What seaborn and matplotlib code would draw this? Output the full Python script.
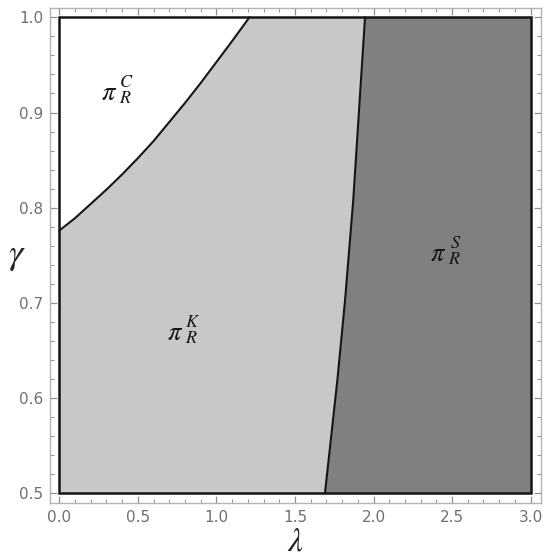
import numpy as np
import pandas as pd
import matplotlib
matplotlib.use("Agg")
import matplotlib.pyplot as plt
import seaborn as sns
from matplotlib.patches import Rectangle
from matplotlib.ticker import MultipleLocator, FormatStrFormatter

# region boundaries
lam_range = [0.0, 3.0]
gam_range = [0.5, 1.0]

# boundary between pi_R^C (white) and pi_R^K (light gray)
lam_c = [0.0, 0.1, 0.2, 0.3, 0.4, 0.5, 0.6, 0.7, 0.8, 0.9, 1.0, 1.1, 1.21]
gam_c = [0.776, 0.789, 0.804, 0.819, 0.835, 0.852, 0.870, 0.890, 0.910, 0.931, 0.953, 0.975, 1.0]

# boundary between pi_R^K and pi_R^S (dark gray)
gam_s = [0.5, 0.619, 0.703, 0.808, 1.0]
lam_s = [1.691, 1.770, 1.819, 1.871, 1.946]

# region labels: pi with superscript / subscript
label_sup = ["C", "K", "S"]
label_sub = ["R", "R", "R"]
label_lam = [0.315, 0.736, 2.41]
label_gam = [0.920, 0.668, 0.751]

sns.set_style("ticks")
plt.rcParams["mathtext.fontset"] = "stix"
plt.rcParams["font.family"] = ["DejaVu Sans"]

fig = plt.figure(figsize=(5.5, 5.57), dpi=100)
ax = fig.add_axes([50 / 550, (557 - 502.7) / 557, 491 / 550, 494.4 / 557])

light = "#c8c8c8"
dark = "#808080"
ink = "#151515"

# light gray background region
ax.add_patch(Rectangle((lam_range[0], gam_range[0]), lam_range[1] - lam_range[0],
                       gam_range[1] - gam_range[0], facecolor=light, edgecolor="none"))
# white region above the curve
ax.fill_between(lam_c, gam_c, gam_range[1], color="white", lw=0)
# dark region right of the line
ax.fill_betweenx(gam_s, lam_s, lam_range[1], color=dark, lw=0)

df_c = pd.DataFrame({"lam": lam_c, "gam": gam_c})
df_s = pd.DataFrame({"lam": lam_s, "gam": gam_s})
sns.lineplot(data=df_c, x="lam", y="gam", sort=False, estimator=None, color=ink, lw=1.5, ax=ax)
sns.lineplot(data=df_s, x="lam", y="gam", sort=False, estimator=None, color=ink, lw=1.5, ax=ax)

# black outline of the plotted region
ax.add_patch(Rectangle((lam_range[0], gam_range[0]), lam_range[1] - lam_range[0],
                       gam_range[1] - gam_range[0], facecolor="none", edgecolor=ink, lw=1.8))

for sup, sub, lx, ly in zip(label_sup, label_sub, label_lam, label_gam):
    ax.annotate(r"$\pi$", (lx, ly), fontsize=19, ha="center", va="center", color=ink)
    ax.annotate(r"$%s$" % sup, (lx, ly), xytext=(12.5, 8.5), textcoords="offset points",
                fontsize=13, ha="center", va="center", color=ink)
    ax.annotate(r"$%s$" % sub, (lx, ly), xytext=(12, -3.5), textcoords="offset points",
                fontsize=13, ha="center", va="center", color=ink)

ax.set_xlim(-0.059, 3.066)
ax.set_ylim(0.4901, 1.0095)

ax.xaxis.set_major_locator(MultipleLocator(0.5))
ax.xaxis.set_minor_locator(MultipleLocator(0.1))
ax.yaxis.set_major_locator(MultipleLocator(0.1))
ax.yaxis.set_minor_locator(MultipleLocator(0.02))
ax.xaxis.set_major_formatter(FormatStrFormatter("%.1f"))
ax.yaxis.set_major_formatter(FormatStrFormatter("%.1f"))

frame_col = "#b4b4b4"
for sp in ax.spines.values():
    sp.set_visible(True)
    sp.set_color(frame_col)
    sp.set_linewidth(1.0)

ax.tick_params(which="both", direction="in", top=True, right=True, color="#909090",
               labelcolor="#707070", labelsize=11)
ax.tick_params(which="major", length=5, width=0.9, pad=5)
ax.tick_params(which="minor", length=3, width=0.7)

ax.set_xlabel(r"$\lambda$", fontsize=24, labelpad=0)
ax.set_ylabel(r"$\gamma$", fontsize=26, rotation=0)
ax.yaxis.set_label_coords(-0.068, 0.465)

fig.savefig("out.png", dpi=100)
